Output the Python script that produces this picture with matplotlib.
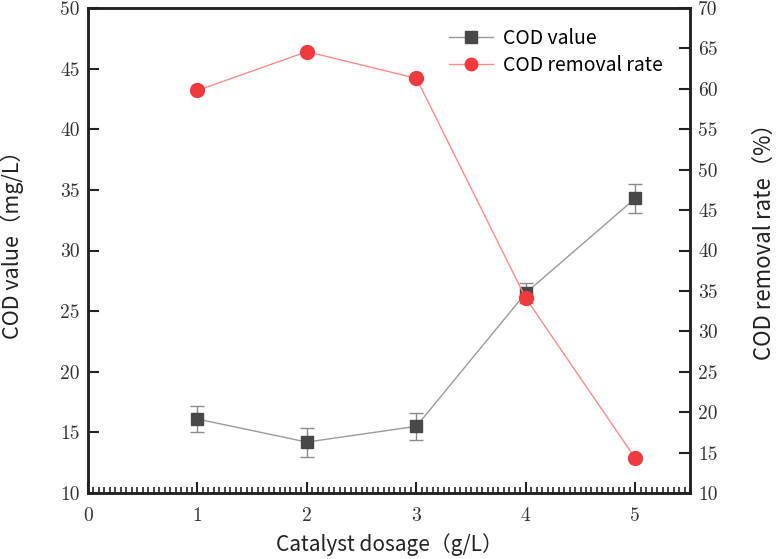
import matplotlib
matplotlib.use("Agg")
import matplotlib.pyplot as plt
from matplotlib.ticker import MultipleLocator
from matplotlib.lines import Line2D

dosage = [1, 2, 3, 4, 5]
cod_value = [16.1, 14.2, 15.5, 26.5, 34.3]
cod_err = [1.1, 1.2, 1.1, 0.8, 1.2]
removal_rate = [59.8, 64.6, 61.3, 34.1, 14.3]

x_label = "Catalyst dosage（g/L）"
y_left_label = "COD value（mg/L）"
y_right_label = "COD removal rate（%）"
legend_labels = ["COD value", "COD removal rate"]

sans = ["Noto Sans CJK SC", "DejaVu Sans"]
gray_line = "#9a9a9a"
gray_mark = "#484848"
red_line = "#ff8a8a"
red_mark = "#f03a3e"

fig = plt.figure(figsize=(7.78, 5.59), dpi=100)
ax = fig.add_axes([88/778, 66/559, 602/778, 485/559])
ax2 = ax.twinx()

ax.errorbar(dosage, cod_value, yerr=cod_err, color=gray_line, lw=1.0,
            marker="s", ms=9, mfc=gray_mark, mec=gray_mark,
            ecolor="#8a8a8a", elinewidth=1.0, capsize=5, capthick=1.0,
            zorder=3)
ax2.plot(dosage, removal_rate, color=red_line, lw=1.0, marker="o",
         ms=10, mfc=red_mark, mec=red_mark, zorder=3)

ax.set_xlim(0, 5.5)
ax.set_ylim(10, 50)
ax2.set_ylim(10, 70)
ax.xaxis.set_major_locator(MultipleLocator(1))
ax.xaxis.set_minor_locator(MultipleLocator(0.05))
ax.yaxis.set_major_locator(MultipleLocator(5))
ax2.yaxis.set_major_locator(MultipleLocator(5))

for a in (ax, ax2):
    for s in a.spines.values():
        s.set_linewidth(1.8)
        s.set_color("#222222")

ax.tick_params(axis="both", which="major", direction="in", length=8, width=1.5,
               labelsize=14, labelfontfamily="cmr10", colors="#222222",
               labelcolor="#333333", pad=6)
ax.tick_params(axis="x", which="major", pad=10)
ax.tick_params(axis="x", which="minor", direction="in", length=4, width=1.2,
               colors="#222222")
ax.tick_params(axis="x", top=False, which="both")
ax2.tick_params(axis="y", which="major", direction="in", length=8, width=1.5,
                labelsize=14, labelfontfamily="cmr10", colors="#222222",
                labelcolor="#333333", pad=6)

ax.set_xlabel(x_label, fontsize=15, family=sans, color="#222222", labelpad=6)
ax.set_ylabel(y_left_label, fontsize=15.5, family=sans, color="#222222")
ax2.set_ylabel(y_right_label, fontsize=16, family=sans, color="#222222")
ax.yaxis.set_label_coords(-0.106, 0.522)
ax2.yaxis.set_label_coords(1.104, 0.53)

handles = [
    Line2D([], [], color=gray_line, lw=1.0, marker="s", ms=8,
           mfc=gray_mark, mec=gray_mark),
    Line2D([], [], color=red_line, lw=1.0, marker="o", ms=9,
           mfc=red_mark, mec=red_mark),
]
ax.legend(handles, legend_labels, loc="upper left",
          bbox_to_anchor=(0.57, 0.995), frameon=False,
          prop={"family": sans, "size": 14}, handlelength=2.3,
          handletextpad=0.5, labelspacing=0.3)

fig.savefig("out.png", dpi=100)
